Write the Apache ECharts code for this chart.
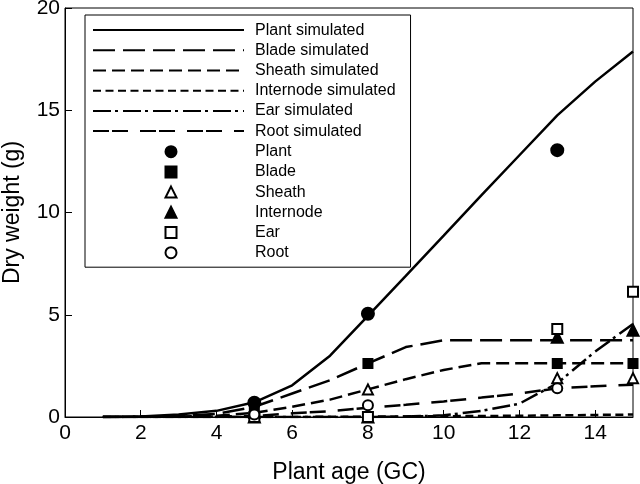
<!DOCTYPE html>
<html>
<head>
<meta charset="utf-8">
<script src="https://cdn.jsdelivr.net/npm/echarts@6/dist/echarts.min.js"></script>
<style>html,body{margin:0;padding:0;background:#fff}#c{width:640px;height:484px}</style>
</head>
<body>
<div id="c"></div>
<script>
const ages = [1,2,3,4,5,6,7,8,9,10,11,12,13,14,15];
const plantSim = [0,0.03,0.12,0.3,0.72,1.55,3.0,4.95,6.9,8.87,10.85,12.8,14.75,16.4,17.87];
const bladeSim = [0,0.01,0.04,0.15,0.5,1.15,1.8,2.62,3.42,3.75,3.75,3.75,3.75,3.75,3.75];
const sheathSim = [0,0.01,0.02,0.06,0.2,0.5,0.85,1.35,1.85,2.3,2.63,2.63,2.63,2.63,2.63];
const internodeSim = [0,0,0,0,0,0,0.01,0.02,0.03,0.04,0.05,0.06,0.08,0.1,0.12];
const earSim = [0,0,0,0,0,0,0,0,0.02,0.08,0.3,0.65,1.65,3.2,4.55];
const rootSim = [0,0,0.01,0.02,0.05,0.18,0.28,0.45,0.6,0.76,0.95,1.15,1.4,1.5,1.58];

const obsAges = [5,8,13,15];
const plantObs = [0.7,5.05,13.05,null];
const bladeObs = [0.55,2.62,2.62,2.62];
const sheathObs = [0.2,1.35,1.9,1.9];
const internodeObs = [0,0,3.9,4.24];
const earObs = [0,0,4.3,6.12];
const rootObs = [0.12,0.57,1.4,null];

const xTicks = [0,2,4,6,8,10,12,14];
const yTicks = [0,5,10,15,20];

const font = "'Liberation Sans', Arial, Helvetica, sans-serif";
function pairs(xs, ys){ return xs.map((x,i)=> ys[i]==null ? null : [x, ys[i]]).filter(p=>p); }
function lineSeries(name, ys, dash){
  return {name, type:'line', data: pairs(ages, ys), symbol:'none', showSymbol:false,
    lineStyle:{color:'#000', width:2.5, type: dash}, itemStyle:{color:'#000'}, z:2, silent:true, animation:false};
}
function scatterSeries(name, ys, symbol, size){
  return {name, type:'scatter', data: pairs(obsAges, ys), symbol, symbolSize:size,
    itemStyle:{color:'#000', borderColor:'#000', borderWidth:2, opacity:1}, z:5, silent:true, animation:false};
}
const simNames = ['Plant simulated','Blade simulated','Sheath simulated','Internode simulated','Ear simulated','Root simulated'];
const obsNames = ['Plant','Blade','Sheath','Internode','Ear','Root'];

const chart = echarts.init(document.getElementById('c'), null, {renderer:'canvas'});
chart.setOption({
  animation:false,
  backgroundColor:'#fff',
  textStyle:{fontFamily:font, color:'#000'},
  grid:{left:65, right:7, top:8, bottom:67, show:true, borderColor:'#000', borderWidth:1, backgroundColor:'transparent',
    containLabel:false, outerBoundsMode:'none'},
  xAxis:{type:'value', min:0, max:15, interval:2,
    name:'Plant age (GC)', nameLocation:'middle', nameGap:44,
    nameTextStyle:{fontSize:23, color:'#000', fontFamily:font},
    axisLine:{show:true, lineStyle:{color:'#000', width:1}},
    axisTick:{show:true, inside:true, length:7, lineStyle:{color:'#000'}},
    axisLabel:{fontSize:21, color:'#000', margin:6, fontFamily:font, showMaxLabel:false,
      formatter: v => xTicks.includes(v) ? String(v) : ''},
    splitLine:{show:false}},
  yAxis:{type:'value', min:0, max:20, interval:5,
    name:'Dry weight (g)', nameLocation:'middle', nameGap:41,
    nameTextStyle:{fontSize:23, color:'#000', fontFamily:font},
    axisLine:{show:true, lineStyle:{color:'#000', width:1}},
    axisTick:{show:true, inside:true, length:7, lineStyle:{color:'#000'}},
    axisLabel:{fontSize:21, color:'#000', margin:5, fontFamily:font,
      formatter: v => yTicks.includes(v) ? String(v) : ''},
    splitLine:{show:false}},
  legend:[
    {data:simNames, orient:'vertical', left:85, top:15, itemWidth:151, itemHeight:14, itemGap:0,
     padding:[5,15,126,7], borderColor:'#000', borderWidth:1, backgroundColor:'#fff',
     itemStyle:{opacity:0, color:'rgba(0,0,0,0)', borderWidth:0},
     selectedMode:false, textStyle:{fontSize:16, color:'#000', fontFamily:font, lineHeight:20.2, padding:[0,0,0,6]}},
    {data:obsNames, orient:'vertical', left:164.5, top:141.6, itemWidth:11, itemHeight:11, itemGap:0,
     padding:0, selectedMode:false, textStyle:{fontSize:16, color:'#000', fontFamily:font, lineHeight:20.2, padding:[0,0,0,73.5]}}
  ],
  series:[
    lineSeries(simNames[0], plantSim, 'solid'),
    lineSeries(simNames[1], bladeSim, [22,8]),
    lineSeries(simNames[2], sheathSim, [13,6]),
    lineSeries(simNames[3], internodeSim, [8,4.5]),
    lineSeries(simNames[4], earSim, [18,4,3,5]),
    lineSeries(simNames[5], rootSim, [16,3,16,12]),
    scatterSeries(obsNames[0], plantObs, 'circle', 12),
    scatterSeries(obsNames[1], bladeObs, 'rect', 9),
    scatterSeries(obsNames[2], sheathObs, 'emptyTriangle', 10),
    scatterSeries(obsNames[3], internodeObs, 'triangle', 11),
    scatterSeries(obsNames[4], earObs, 'emptyRect', 10),
    scatterSeries(obsNames[5], rootObs, 'emptyCircle', 10)
  ]
});
</script>
</body>
</html>
